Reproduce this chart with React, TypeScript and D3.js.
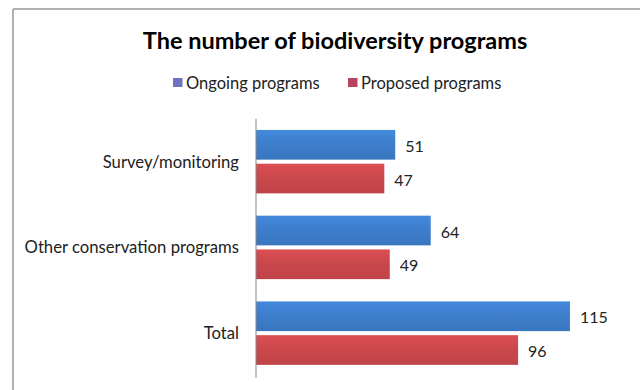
import React from "react";
import * as d3 from "d3";

const categories = ["Survey/monitoring", "Other conservation programs", "Total"];
const seriesNames = ["Ongoing programs", "Proposed programs"];
const ongoing = [51, 64, 115];
const proposed = [47, 49, 96];
const colors = ["#3d7dca", "#c9474c"];
const legendColors = ["#6e72c0", "#b8445f"];

const W = 640;
const H = 390;
const FONT = "Lato, 'Open Sans', sans-serif";

export default function App() {
  const x = d3.scaleLinear().domain([0, 140]).range([256, 638.2]);
  const y = d3.scaleBand().domain(categories).range([118.8, 376]).paddingInner(0).paddingOuter(0);
  const inner = d3.scaleBand().domain(seriesNames).range([0, y.bandwidth()]).paddingInner(0.12).paddingOuter(0.33);
  const series = [ongoing, proposed];

  return (
    <svg width={W} height={H} style={{ position: "absolute", left: 0, top: 0 }}>
      <defs>
        {colors.map((c, i) => (
          <linearGradient key={i} id={`g${i}`} x1="0" y1="0" x2="0" y2="1">
            <stop offset="0" stopColor={d3.color(c)!.brighter(0.25).toString()} />
            <stop offset="0.5" stopColor={c} />
            <stop offset="1" stopColor={d3.color(c)!.darker(0.15).toString()} />
          </linearGradient>
        ))}
      </defs>
      <rect x={0} y={0} width={W} height={H} fill="#fff" />
      <line x1={13} y1={9} x2={640} y2={9} stroke="#b0b0b0" strokeWidth={2} />
      <line x1={13} y1={9} x2={13} y2={390} stroke="#b0b0b0" strokeWidth={2} />
      <text x={335} y={48.5} textAnchor="middle" fontFamily={FONT} fontWeight="bold" fontSize={23.5} fill="#000">
        The number of biodiversity programs
      </text>
      {seriesNames.map((s, i) => {
        const lx = [173, 348][i];
        return (
          <g key={s}>
            <rect x={lx} y={78} width={9.5} height={9} fill={legendColors[i]} />
            <text x={lx + 13} y={88.5} fontFamily={FONT} fontSize={16.5} fill="#222">{s}</text>
          </g>
        );
      })}
      {categories.map((c, ci) => (
        <g key={c}>
          <text x={239} y={y(c)! + y.bandwidth() / 2 + 6} textAnchor="end" fontFamily={FONT} fontSize={16.7} fill="#222">
            {c}
          </text>
          {seriesNames.map((s, si) => {
            const v = series[si][ci];
            const by = y(c)! + inner(s)!;
            return (
              <g key={s}>
                <rect x={x(0)} y={by} width={x(v) - x(0)} height={inner.bandwidth()} fill={`url(#g${si})`} />
                <text x={x(v) + 10} y={by + inner.bandwidth() / 2 + 7} fontFamily={FONT} fontSize={16} fill="#222">
                  {v}
                </text>
              </g>
            );
          })}
        </g>
      ))}
      <line x1={x(0)} y1={118.8} x2={x(0)} y2={378} stroke="#888" strokeWidth={1} />
    </svg>
  );
}
